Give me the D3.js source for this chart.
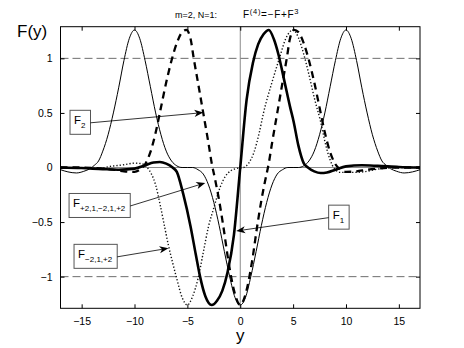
<!DOCTYPE html>
<html lang="en">
<head>
<meta charset="UTF-8">
<script src="https://d3js.org/d3.v7.min.js"></script>
<style>
  body { margin: 0; background: #fff; }
  text { font-family: "Liberation Sans", Arial, Helvetica, sans-serif; fill: #000; }
</style>
</head>
<body>
<svg id="chart" width="464" height="348"></svg>
<script>
// tick values
const xTicks = [-15, -10, -5, 0, 5, 10, 15];
const yTicks = [-1, -0.5, 0, 0.5, 1];
const refLines = [-1, 1];

// curves, [y, F(y)]
const thinF = [[-17,-0.02],[-16.3,-0.04],[-15.5,-0.05],[-14.8,-0.035],[-14.2,-0.01],[-13.8,0.02],[-13.4,0.06],[-13,0.15],
  [-12.5,0.30],[-12,0.50],[-11.5,0.73],[-11,0.98],[-10.5,1.18],[-10,1.26],[-9.5,1.18],[-9,0.98],[-8.5,0.74],[-8,0.50],
  [-7.5,0.30],[-7,0.15],[-6.5,0.06],[-6,0.015],[-5.5,0],[-5,0],[-4.5,0],[-4,-0.02],[-3.5,-0.06],[-3,-0.16],[-2.5,-0.32],
  [-2,-0.53],[-1.5,-0.77],[-1,-1.0],[-0.5,-1.19],[0,-1.26],[0.5,-1.19],[1,-1.0],[1.5,-0.77],[2,-0.53],[2.5,-0.32],
  [3,-0.16],[3.5,-0.06],[4,-0.02],[4.5,0],[5,0],[5.5,0],[6,0.015],[6.5,0.06],[7,0.15],[7.5,0.30],[8,0.50],[8.5,0.74],
  [9,0.98],[9.5,1.18],[10,1.26],[10.5,1.18],[11,0.98],[11.5,0.73],[12,0.50],[12.5,0.30],[13,0.15],[13.4,0.06],
  [13.8,0.02],[14.2,-0.01],[14.8,-0.035],[15.5,-0.05],[16.3,-0.04],[17,-0.02]];

const dashF = [[-17,0],[-15,0],[-13,-0.01],[-12,-0.02],[-11,-0.035],[-10,-0.04],[-9.5,-0.02],[-9,0.03],[-8.5,0.14],
  [-8,0.32],[-7.5,0.55],[-7,0.78],[-6.5,0.98],[-6,1.14],[-5.5,1.24],[-5.1,1.26],[-4.7,1.18],[-4.4,1.0],[-4,0.78],
  [-3.5,0.5],[-3,0.22],[-2.7,0.04],[-2.4,-0.1],[-2,-0.3],[-1.6,-0.54],[-1.1,-0.87],[-0.5,-1.16],[0,-1.26],
  [0.5,-1.16],[1.1,-0.87],[1.6,-0.54],[2,-0.3],[2.4,-0.1],[2.7,0.04],[3,0.22],[3.5,0.5],[4,0.78],[4.4,1.0],
  [4.7,1.18],[5.1,1.26],[5.5,1.24],[6,1.14],[6.5,0.98],[7,0.78],[7.5,0.55],[8,0.32],[8.5,0.14],[9,0.03],
  [9.5,-0.02],[10,-0.04],[11,-0.035],[12,-0.02],[13,-0.01],[15,0],[17,0]];

const dotF = [[-17,0],[-15,-0.005],[-13.5,-0.01],[-12.3,0.01],[-11,0.025],[-10,0.04],[-9.3,0.035],[-8.8,0],
  [-8.4,-0.06],[-8,-0.16],[-7.6,-0.33],[-7.2,-0.52],[-6.8,-0.71],[-6.4,-0.87],[-6,-1.02],[-5.5,-1.19],[-5,-1.26],
  [-4.5,-1.18],[-4,-1.02],[-3.5,-0.78],[-3,-0.54],[-2.5,-0.37],[-1.9,-0.18],[-1.4,-0.08],[-0.9,-0.03],[-0.4,-0.01],
  [0.3,0],[0.8,0.04],[1.3,0.14],[1.8,0.32],[2.2,0.5],[3,0.78],[3.7,1.0],[4.3,1.18],[5,1.26],[5.5,1.19],[6,1.04],
  [6.5,0.85],[7,0.64],[7.6,0.42],[8.1,0.2],[8.5,0.07],[8.9,-0.01],[9.5,-0.045],[10.5,-0.045],[11.6,-0.04],
  [13,-0.015],[15,0],[17,0]];

const thickF = [[-17,0],[-15,-0.005],[-13,-0.015],[-11.5,-0.02],[-10,-0.01],[-9,0.02],[-8.2,0.045],[-7.6,0.05],
  [-7,0.035],[-6.4,0],[-6,-0.04],[-5.4,-0.24],[-4.7,-0.54],[-4.2,-0.8],[-3.8,-1.0],[-3.3,-1.18],[-2.7,-1.26],
  [-2.2,-1.22],[-1.7,-1.13],[-1.2,-0.96],[-0.6,-0.62],[0,0],[0.6,0.62],[1.2,0.96],[1.7,1.13],[2.2,1.22],[2.7,1.26],
  [3.2,1.17],[3.6,1.04],[4.2,0.78],[4.7,0.56],[5.05,0.42],[5.5,0.2],[6,0.04],[6.4,0],[7,-0.035],[7.6,-0.05],
  [8.2,-0.045],[9,-0.02],[10,0.01],[11.5,0.02],[13,0.015],[15,0.005],[17,0]];

// text boxes with arrows (box corner and arrow tip in data units)
const notes = [
  {sub: "2",            boxX: -16.1,  boxY: 0.524,  tipX: -3.49, tipY: 0.503},
  {sub: "+2,1,\u22122,1,+2", boxX: -16.19, boxY: -0.238, tipX: -3.31, tipY: -0.141},
  {sub: "\u22122,1,+2",      boxX: -15.72, boxY: -0.704, tipX: -6.79, tipY: -0.74},
  {sub: "1",            boxX: 8.36,   boxY: -0.345, tipX: -0.38, tipY: -0.582}
];

var pLeft = 60.5, pRight = 420, pTop = 26.7, pBottom = 308.3;

var svg = d3.select("#chart");

var xs = d3.scaleLinear().domain([-17, 17]).range([pLeft, pRight]);
var ys = d3.scaleLinear().domain([-1.29, 1.29]).range([pBottom, pTop]);

svg.append("defs").append("clipPath").attr("id", "plotclip")
    .append("rect").attr("x", pLeft).attr("y", pTop)
    .attr("width", pRight - pLeft).attr("height", pBottom - pTop);

// zero lines
svg.append("line")
    .attr("x1", pLeft).attr("x2", pRight).attr("y1", ys(0)).attr("y2", ys(0))
    .attr("stroke", "#8a8a8a").attr("stroke-width", 1);
svg.append("line")
    .attr("x1", xs(0)).attr("x2", xs(0)).attr("y1", pTop).attr("y2", pBottom)
    .attr("stroke", "#8a8a8a").attr("stroke-width", 1);

// dashed lines at +-1
svg.selectAll(".ref").data(refLines).enter().append("line")
    .attr("class", "ref")
    .attr("x1", pLeft).attr("x2", pRight)
    .attr("y1", d => ys(d)).attr("y2", d => ys(d))
    .attr("stroke", "#6e6e6e").attr("stroke-width", 1)
    .attr("stroke-dasharray", "8,4");

var line = d3.line()
    .x(d => xs(d[0]))
    .y(d => ys(d[1]))
    .curve(d3.curveMonotoneX);

var g = svg.append("g").attr("clip-path", "url(#plotclip)");

g.append("path").datum(thinF).attr("d", line)
    .attr("fill", "none").attr("stroke", "#000").attr("stroke-width", 1);
g.append("path").datum(dotF).attr("d", line)
    .attr("fill", "none").attr("stroke", "#111").attr("stroke-width", 1.4)
    .attr("stroke-dasharray", "1.3,2");
g.append("path").datum(dashF).attr("d", line)
    .attr("fill", "none").attr("stroke", "#000").attr("stroke-width", 2.3)
    .attr("stroke-dasharray", "7,5");
g.append("path").datum(thickF).attr("d", line)
    .attr("fill", "none").attr("stroke", "#000").attr("stroke-width", 2.6);

// axes, ticks pointing inward like matlab
var fmt = d3.format("");
svg.append("g").attr("transform", "translate(0," + pBottom + ")")
    .call(d3.axisBottom(xs).tickValues(xTicks).tickSizeInner(-4).tickSizeOuter(0).tickPadding(9).tickFormat(fmt));
svg.append("g").attr("transform", "translate(0," + pTop + ")")
    .call(d3.axisTop(xs).tickValues(xTicks).tickSizeInner(-4).tickSizeOuter(0).tickFormat(""));
svg.append("g").attr("transform", "translate(" + pLeft + ",0)")
    .call(d3.axisLeft(ys).tickValues(yTicks).tickSizeInner(-4).tickSizeOuter(0).tickPadding(8).tickFormat(fmt));
svg.append("g").attr("transform", "translate(" + pRight + ",0)")
    .call(d3.axisRight(ys).tickValues(yTicks).tickSizeInner(-4).tickSizeOuter(0).tickFormat(""));

svg.selectAll(".domain").remove();
svg.selectAll(".tick line").attr("stroke", "#000");
svg.selectAll(".tick text").attr("font-size", "10.5px")
    .attr("font-family", "'Liberation Sans', Arial, sans-serif");

svg.append("rect")
    .attr("x", pLeft).attr("y", pTop)
    .attr("width", pRight - pLeft).attr("height", pBottom - pTop)
    .attr("fill", "none").attr("stroke", "#000").attr("stroke-width", 1);

// labels
svg.append("text").attr("x", 17).attr("y", 37).attr("font-size", "17px").text("F(y)");
svg.append("text").attr("x", xs(0)).attr("y", 341).attr("text-anchor", "middle")
    .attr("font-size", "17px").text("y");

svg.append("text").attr("x", 217).attr("y", 17.5).attr("text-anchor", "end")
    .attr("font-size", "9px").text("m=2, N=1:");
var t2 = svg.append("text").attr("x", 243).attr("y", 17.5).attr("font-size", "10px")
    .attr("letter-spacing", "0.7px");
t2.append("tspan").text("F");
t2.append("tspan").attr("font-size", "7.5px").attr("dy", -4).text("(4)");
t2.append("tspan").attr("dy", 4).text("=\u2212F+F");
t2.append("tspan").attr("font-size", "7.5px").attr("dy", -4).text("3");

// annotation boxes and arrows
notes.forEach(function(n) {
    var bx = xs(n.boxX), by = ys(n.boxY);
    var ng = svg.append("g");
    var box = ng.append("rect");
    var txt = ng.append("text").attr("x", bx + 4).attr("y", by + 13.5).attr("font-size", "11.5px");
    txt.append("tspan").text("F");
    txt.append("tspan").attr("font-size", "8px").attr("dy", 4.5).text(n.sub);
    var w = txt.node().getComputedTextLength() + 9;
    var h = 24;
    box.attr("x", bx).attr("y", by).attr("width", w).attr("height", h)
        .attr("fill", "#fff").attr("stroke", "#555").attr("stroke-width", 1);

    var tx = xs(n.tipX), ty = ys(n.tipY);
    var sx = tx < bx ? bx : bx + w;
    var sy = by + h / 2 + 0.5;
    var ang = Math.atan2(ty - sy, tx - sx);
    var len = 9, hw = 3.6, notch = 6.5;
    var ca = Math.cos(ang), sa = Math.sin(ang);
    ng.append("line").attr("x1", sx).attr("y1", sy)
        .attr("x2", tx - ca * notch).attr("y2", ty - sa * notch)
        .attr("stroke", "#000").attr("stroke-width", 0.8);
    var pts = [
        [tx, ty],
        [tx - ca * len - sa * hw, ty - sa * len + ca * hw],
        [tx - ca * notch, ty - sa * notch],
        [tx - ca * len + sa * hw, ty - sa * len - ca * hw]
    ];
    ng.append("path").attr("d", "M" + pts.map(p => p.join(",")).join("L") + "Z")
        .attr("fill", "#000");
});
</script>
</body>
</html>
